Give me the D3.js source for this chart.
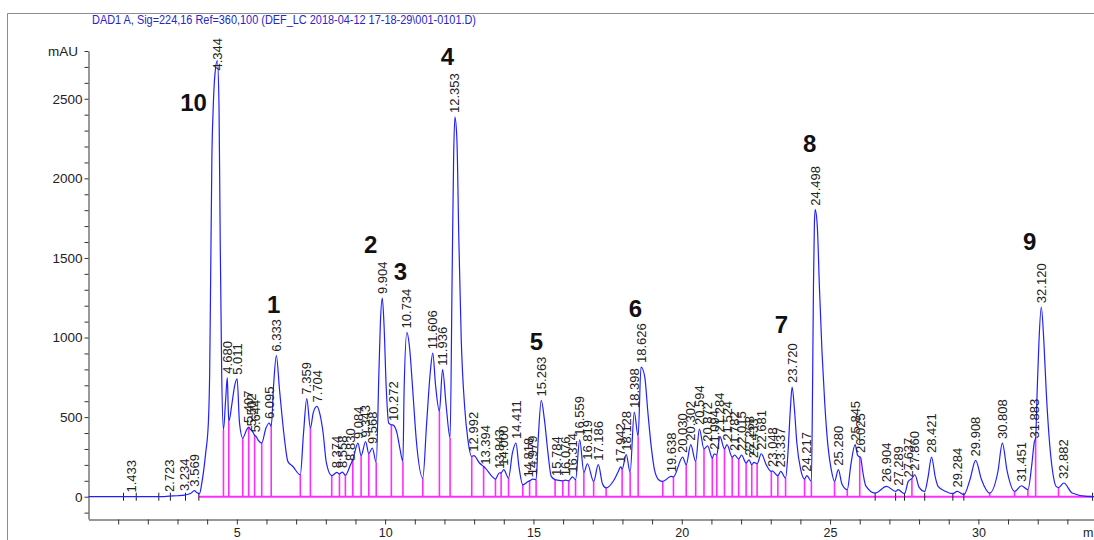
<!DOCTYPE html>
<html>
<head>
<meta charset="utf-8">
<script src="https://cdn.jsdelivr.net/npm/d3@7"></script>
<style>
  html, body { margin: 0; padding: 0; background: #fff; overflow: hidden; }
  text { font-family: "Liberation Sans", Arial, sans-serif; }
</style>
</head>
<body>
<svg id="chart" width="1094" height="540"></svg>
<script>
// ---- Chromatogram data -------------------------------------------------
const title = "DAD1 A, Sig=224,16 Ref=360,100 (DEF_LC 2018-04-12 17-18-29\\001-0101.D)";

// Detector signal: [retention time (min), absorbance (mAU)]
const trace = [
  [0,0],[1.0,0],[1.433,1],[2.0,0],[2.5,1],[2.723,4],[3.0,6],[3.234,10],[3.45,22],[3.569,38],[3.66,25],[3.74,18],
  [3.82,86],[3.95,274],[4.04,463],[4.085,777],[4.12,1405],[4.16,2138],[4.20,2420],[4.26,2650],[4.344,2740],
  [4.40,2450],[4.44,1614],[4.49,779],[4.55,421],
  [4.62,600],[4.68,748],[4.71,560],[4.73,473],[4.84,590],[4.93,700],[5.011,741],[5.09,465],[5.20,369],
  [5.33,420],[5.407,438],[5.46,422],[5.502,418],[5.60,386],[5.644,380],[5.73,352],[5.84,337],[5.98,430],
  [6.095,463],[6.16,442],[6.24,700],[6.333,886],[6.44,672],[6.61,358],[6.72,222],[6.89,190],[7.14,138],
  [7.25,402],[7.359,616],[7.48,431],[7.58,530],[7.704,567],[7.80,520],[7.91,400],[8.02,212],[8.20,132],
  [8.374,153],[8.46,143],[8.558,155],[8.66,135],[8.83,200],[8.91,232],[9.084,337],[9.19,258],[9.343,347],
  [9.45,270],[9.568,306],[9.70,215],
  [9.79,777],[9.84,1091],[9.904,1248],[9.96,1091],[10.04,672],[10.12,463],[10.21,452],[10.272,450],
  [10.40,400],[10.50,300],[10.60,222],
  [10.64,672],[10.734,1032],[10.82,944],[10.93,672],[11.05,358],[11.27,117],
  [11.40,463],[11.52,777],[11.606,902],[11.70,700],[11.83,536],[11.936,798],[12.06,567],[12.19,369],
  [12.26,1405],[12.31,2138],[12.353,2385],[12.42,2243],[12.485,1614],[12.566,986],[12.68,567],[12.79,358],
  [12.92,253],[12.992,258],[13.18,212],[13.32,190],[13.394,176],[13.60,128],[13.72,111],[13.843,149],
  [13.91,150],[14.00,170],[14.16,117],
  [14.29,274],[14.411,337],[14.51,190],[14.64,75],[14.818,95],[14.87,100],[14.979,110],[15.09,107],
  [15.16,358],[15.263,605],[15.37,484],[15.49,274],[15.60,128],[15.73,107],[15.784,105],[15.99,100],
  [16.076,104],[16.19,100],[16.314,125],[16.42,107],
  [16.559,358],[16.70,153],[16.819,207],[17.03,96],[17.186,201],[17.33,80],[17.45,55],[17.70,100],
  [17.84,150],[17.942,187],[17.99,175],[18.128,264],[18.26,153],[18.398,532],[18.53,379],[18.626,815],
  [18.75,756],[18.86,526],[18.97,316],[19.08,170],[19.22,107],[19.36,96],
  [19.638,128],[19.72,125],[20.030,249],[20.15,201],[20.302,327],[20.47,222],[20.594,425],[20.75,300],
  [20.872,320],[21.03,243],[21.094,270],[21.18,262],[21.284,379],[21.44,300],[21.524,327],[21.70,249],
  [21.782,262],[21.92,237],[22.015,262],[22.17,212],[22.268,232],[22.36,201],[22.433,216],[22.54,207],
  [22.681,270],[22.85,200],[23.02,159],[23.048,162],[23.24,132],[23.337,159],[23.50,117],
  [23.58,274],[23.66,546],[23.720,689],[23.80,546],[23.88,337],[24.01,170],[24.14,111],[24.217,132],[24.37,96],
  [24.41,693],[24.44,1321],[24.47,1698],[24.498,1803],[24.57,1698],[24.64,1321],[24.73,903],[24.82,589],
  [24.93,316],[25.04,170],[25.15,96],
  [25.280,170],[25.40,80],[25.58,44],[25.70,200],[25.845,327],[25.93,260],[26.0,250],[26.025,249],
  [26.10,160],[26.20,70],[26.52,23],
  [26.904,65],[27.21,33],[27.289,44],[27.51,19],[27.637,96],[27.76,115],[27.860,138],[28.0,60],[28.19,33],
  [28.30,120],[28.421,249],[28.55,120],[28.64,65],[28.9,33],[29.14,19],[29.284,33],[29.51,13],
  [29.72,110],[29.908,228],[30.10,110],[30.38,23],[30.66,160],[30.808,337],[30.97,160],[31.22,33],
  [31.451,69],[31.67,44],[31.80,200],[31.883,340],[31.93,370],[31.98,651],[32.04,965],[32.120,1191],
  [32.21,965],[32.29,651],[32.40,337],[32.51,149],[32.62,65],[32.70,58],[32.882,86],[33.16,23],[33.66,2],[34.2,0]
];

// Integrated peaks (retention time labels)
const peakTimes = [
  1.433, 2.723, 3.234, 3.569, 4.344, 4.680, 5.011, 5.407, 5.502, 5.644, 6.095, 6.333, 7.359, 7.704,
  8.374, 8.558, 8.830, 9.084, 9.343, 9.568, 9.904, 10.272, 10.734, 11.606, 11.936, 12.353, 12.992,
  13.394, 13.843, 14.000, 14.411, 14.818, 14.979, 15.263, 15.784, 16.076, 16.314, 16.559, 16.819,
  17.186, 17.942, 18.128, 18.398, 18.626, 19.638, 20.030, 20.302, 20.594, 20.872, 21.094, 21.284,
  21.524, 21.782, 22.015, 22.268, 22.433, 22.681, 23.048, 23.337, 23.720, 24.217, 24.498, 25.280,
  25.845, 26.025, 26.904, 27.289, 27.637, 27.860, 28.421, 29.284, 29.908, 30.808, 31.451, 31.883,
  32.120, 32.882
];

// Peak boundaries (baseline drop lines)
const dropTimes = [
  4.55, 4.73, 5.20, 5.40, 5.60, 5.84, 6.16, 7.14, 7.48, 8.20, 8.46, 8.66, 8.91, 9.19, 9.45, 9.70,
  10.21, 10.60, 11.27, 11.83, 12.19, 12.92, 13.32, 13.72, 13.91, 14.16, 14.64, 14.87, 15.09, 15.73,
  15.99, 16.19, 16.42, 16.70, 17.03, 17.45, 17.99, 18.26, 18.53, 19.36, 19.72, 20.15, 20.47, 20.75,
  21.03, 21.18, 21.44, 21.70, 21.92, 22.17, 22.36, 22.54, 23.02, 23.24, 23.50, 24.14, 24.37, 25.15,
  25.58, 26.0, 27.76, 30.38, 31.22, 31.67, 31.93, 32.70
];

// Baseline start/end marks of small peaks
const markerTimes = [1.18, 1.61, 2.37, 2.76, 3.27, 3.72, 26.52, 27.21, 27.51, 28.19, 29.14, 29.51, 33.85];

// Compound numbers written on the chromatogram
const compoundIds  = ["10", "1", "2", "3", "4", "5", "6", "7", "8", "9"];
const compoundTime = [3.54, 6.24, 9.51, 10.52, 12.10, 15.10, 18.44, 23.36, 24.31, 31.73];
const compoundMAU  = [2425, 1156, 1533, 1363, 2714, 923, 1131, 1030, 2167, 1551];

const yMajorTicks = [0, 500, 1000, 1500, 2000, 2500];
const xMajorTicks = [5, 10, 15, 20, 25, 30];
const baselineRange = [3.72, 33.85];

// ---- Scales -------------------------------------------------------------
const svg = d3.select("#chart");
const x = d3.scaleLinear().domain([0, 34.1]).range([88.5, 1100]);
const y = d3.scaleLinear().domain([-140, 2800]).range([519, 51]);

const bis = d3.bisector(d => d[0]).left;
function valueAt(t) {
  const i = bis(trace, t);
  if (i <= 0) return trace[0][1];
  if (i >= trace.length) return trace[trace.length - 1][1];
  const a = trace[i - 1], b = trace[i];
  return a[1] + (b[1] - a[1]) * (t - a[0]) / (b[0] - a[0]);
}

// ---- Frame and title ---------------------------------------------------
svg.append("path")
  .attr("d", "M7.5,545 V13.5 H1100")
  .attr("fill", "none").attr("stroke", "#8c8c8c").attr("stroke-width", 1);

svg.append("text")
  .attr("x", 92).attr("y", 24)
  .attr("font-size", 12)
  .attr("textLength", 384)
  .attr("lengthAdjust", "spacingAndGlyphs")
  .attr("fill", "#2626c8")
  .text(title);

// ---- Axes ---------------------------------------------------------------
const yAxis = d3.axisLeft(y)
  .tickValues(d3.range(-100, 2801, 100))
  .tickSize(4).tickSizeOuter(0)
  .tickFormat(d => yMajorTicks.includes(d) ? d : "");
const gy = svg.append("g").attr("transform", "translate(88.5,0)").call(yAxis);
gy.selectAll("text").attr("font-size", 13.5).attr("fill", "#222").attr("x", -6);
gy.selectAll("line, path").attr("stroke", "#333");

const xAxis = d3.axisBottom(x)
  .tickValues(d3.range(1, 34, 1))
  .tickSize(5).tickSizeOuter(0)
  .tickFormat(d => xMajorTicks.includes(d) ? d : "");
const gx = svg.append("g").attr("transform", "translate(0,519.5)").call(xAxis);
gx.selectAll("text")
  .attr("font-size", 12.5).attr("fill", "#222")
  .attr("y", 0).attr("dy", 0)
  .attr("transform", "translate(0,17)");
gx.selectAll("line, path").attr("stroke", "#333");

svg.append("text")
  .attr("x", 78).attr("y", y(2800)).attr("dy", "0.35em")
  .attr("text-anchor", "end").attr("font-size", 13.5).attr("fill", "#222")
  .text("mAU");
// time unit at the right end of the axis
svg.append("text")
  .attr("x", 1083).attr("y", 536.5)
  .attr("font-size", 12.5).attr("fill", "#222")
  .text("m");

// ---- Integration baseline and drop lines -------------------------------
const magenta = "#ff2cff";
svg.append("line")
  .attr("x1", x(baselineRange[0])).attr("x2", x(baselineRange[1]))
  .attr("y1", y(0)).attr("y2", y(0))
  .attr("stroke", magenta).attr("stroke-width", 2);

svg.append("g").selectAll("line").data(dropTimes).join("line")
  .attr("x1", d => x(d)).attr("x2", d => x(d))
  .attr("y1", y(0)).attr("y2", d => y(valueAt(d)))
  .attr("stroke", magenta).attr("stroke-width", 1.6);

svg.append("g").selectAll("line").data(markerTimes).join("line")
  .attr("x1", d => x(d)).attr("x2", d => x(d))
  .attr("y1", y(0) - 4).attr("y2", y(0) + 4)
  .attr("stroke", "#222").attr("stroke-width", 1);

// ---- Signal ------------------------------------------------------------
const line = d3.line()
  .x(d => x(d[0])).y(d => y(d[1]))
  .curve(d3.curveMonotoneX);
svg.append("path")
  .datum(trace)
  .attr("d", line)
  .attr("fill", "none")
  .attr("stroke", "#2020ff")
  .attr("stroke-width", 1.2)
  .attr("stroke-linejoin", "round");

// ---- Retention time labels ----------------------------------------------
const labels = svg.append("g").selectAll("text").data(peakTimes).join("text")
  .attr("font-size", 13)
  .attr("fill", "#222")
  .attr("dy", "0.35em")
  .text(d => d.toFixed(3));
labels.each(function (d) {
  const len = this.getComputedTextLength();
  let yy = y(valueAt(d)) - 4;
  if (yy - len < 38) yy = 38 + len;
  d3.select(this).attr("transform", `translate(${x(d)},${yy}) rotate(-90)`);
});

// ---- Compound numbers ---------------------------------------------------
svg.append("g").selectAll("text").data(compoundIds).join("text")
  .attr("x", (d, i) => x(compoundTime[i]))
  .attr("y", (d, i) => y(compoundMAU[i]))
  .attr("text-anchor", "middle")
  .attr("font-family", "'DejaVu Sans', sans-serif")
  .attr("font-weight", "bold")
  .attr("font-size", 24)
  .attr("fill", "#111")
  .text(d => d);
</script>
</body>
</html>
